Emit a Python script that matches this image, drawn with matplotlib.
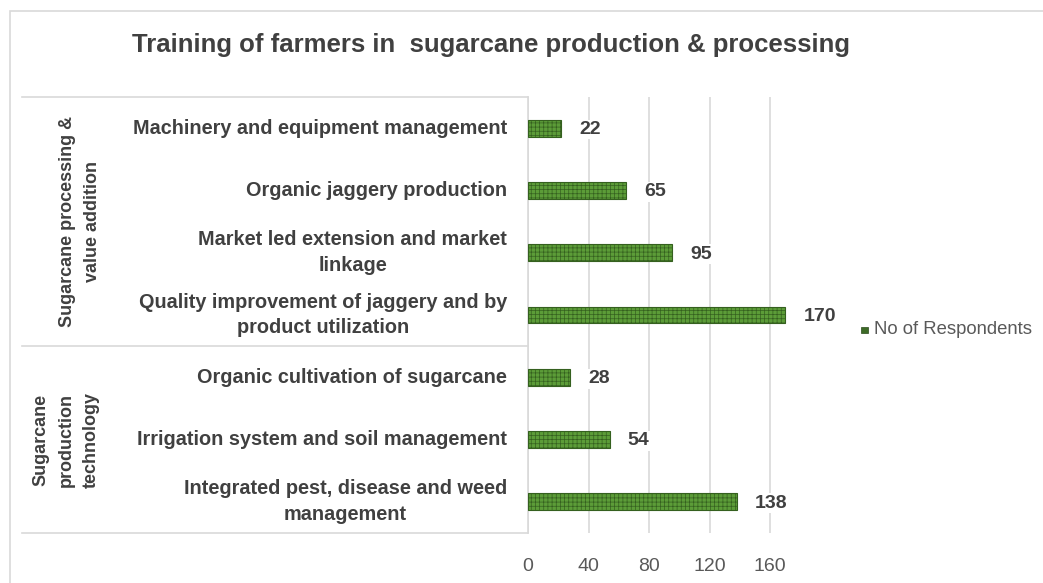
import matplotlib
matplotlib.use("Agg")
import matplotlib.pyplot as plt
from matplotlib.lines import Line2D
from matplotlib.patches import Rectangle
from matplotlib.transforms import blended_transform_factory
import numpy as np

plt.rcParams['font.family'] = ['Liberation Sans', 'DejaVu Sans']
plt.rcParams['hatch.color'] = '#3b6a25'
plt.rcParams['hatch.linewidth'] = 0.5

# data, top to bottom
labels = ['Machinery and equipment management',
          'Organic jaggery production',
          'Market led extension and market\nlinkage',
          'Quality improvement of jaggery and by\nproduct utilization',
          'Organic cultivation of sugarcane',
          'Irrigation system and soil management',
          'Integrated pest, disease and weed\nmanagement']
values = [22, 65, 95, 170, 28, 54, 138]
groups = ['Sugarcane processing &\nvalue addition', 'Sugarcane\nproduction\ntechnology']
group_rows = [(0, 3), (4, 6)]

W, H = 1043, 583
fig = plt.figure(figsize=(W / 100, H / 100), dpi=100)
ax = fig.add_axes([528 / W, 1 - 533 / H, 265 / W, 436 / H])

y = np.arange(len(values))
ax.barh(y, values, height=0.27, color='#5c9c38', edgecolor='#35601f',
        linewidth=0.8, hatch='++++', zorder=3)
ax.set_ylim(len(values) - 0.5, -0.5)
ax.set_xlim(0, 175)
ax.set_xticks([0, 40, 80, 120, 160])
ax.set_yticks([])
ax.grid(axis='x', color='#d9d9d9', linewidth=1.2, zorder=0)
for s in ['top', 'right', 'bottom']:
    ax.spines[s].set_visible(False)
ax.spines['left'].set_color('#d9d9d9')
ax.spines['left'].set_linewidth(1.2)
ax.tick_params(axis='x', length=0, labelsize=14, labelcolor='#595959', pad=18)

for yi, v in zip(y, values):
    ax.annotate(str(v), (v, yi), xytext=(13, -1), textcoords='offset points',
                ha='left', va='center', fontsize=14, fontweight='bold',
                color='#404040', zorder=4,
                bbox=dict(facecolor='white', edgecolor='none', pad=1))

# category labels and group table
tr = blended_transform_factory(fig.transFigure, ax.transData)
for yi, lab in zip(y, labels):
    fig.text(507 / W, yi, lab, transform=tr, ha='right', va='center',
             fontsize=14.3, fontweight='bold', color='#404040',
             multialignment='center', linespacing=1.45)

group_x = [80, 66]
for g, (a, b), gx in zip(groups, group_rows, group_x):
    fig.text(gx / W, (a + b) / 2, g, transform=tr, ha='center', va='center',
             rotation=90, fontsize=13, fontweight='bold', color='#404040',
             multialignment='center', linespacing=1.6)

for yl in [-0.5, 3.5, 6.5]:
    fig.add_artist(Line2D([22 / W, 528 / W], [yl, yl], transform=tr,
                          color='#d9d9d9', linewidth=1.2))

# legend
fig.add_artist(Rectangle((861 / W, 1 - 333 / H), 7 / W, 6 / H,
                         transform=fig.transFigure, facecolor='#3d6b27',
                         edgecolor='#2a4a1a', linewidth=0.5))
fig.text(874 / W, 1 - 330 / H, 'No of Respondents', ha='left', va='center',
         fontsize=13.3, color='#595959')

# title
fig.text(491 / W, 1 - 45 / H, 'Training of farmers in  sugarcane production & processing',
         ha='center', va='center', fontsize=18.5, fontweight='bold', color='#404040')

# chart border
fig.add_artist(Rectangle((10 / W, -0.1), 1.2, 1 - 11 / H + 0.1,
                         transform=fig.transFigure, facecolor='none',
                         edgecolor='#d9d9d9', linewidth=1.2))

fig.savefig('out.png', dpi=100, facecolor='white')
